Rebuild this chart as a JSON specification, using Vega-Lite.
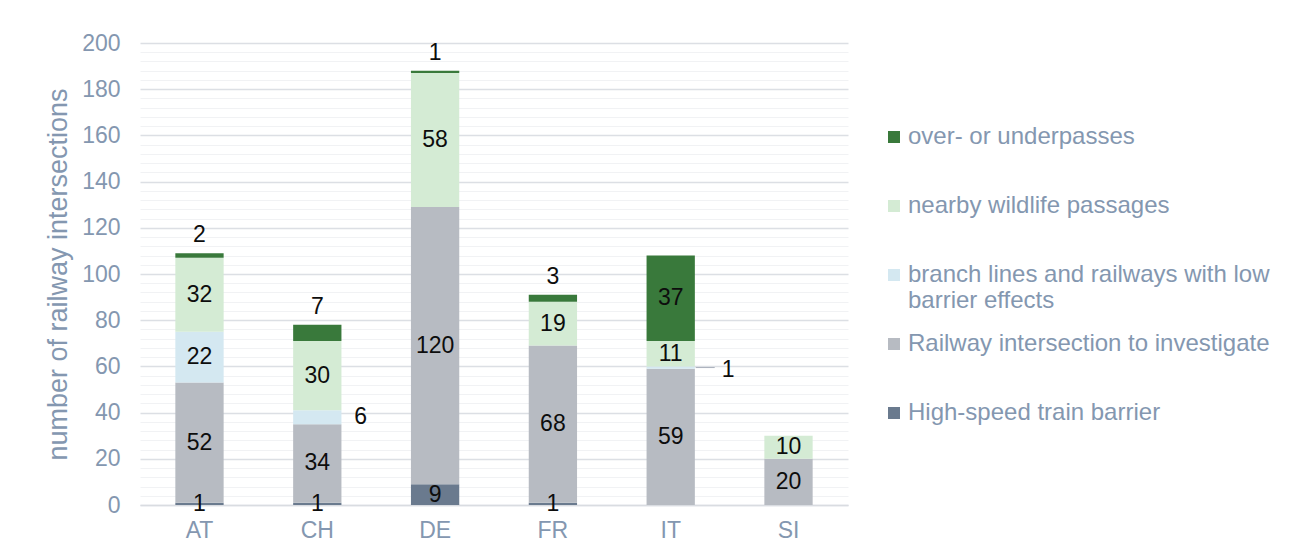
{
  "$schema": "https://vega.github.io/schema/vega-lite/v6.json",
  "width": 708,
  "height": 462,
  "autosize": {"type": "none"},
  "padding": {"left": 140, "top": 43, "right": 442, "bottom": 49},
  "background": "#ffffff",
  "config": {
    "font": "Liberation Sans",
    "view": {"stroke": null},
    "axisY": {
      "title": "number of railway intersections",
      "titleFontSize": 27,
      "titleFontWeight": "normal",
      "titleColor": "#8497b0",
      "titlePadding": 9,
      "labelFontSize": 23,
      "labelColor": "#8497b0",
      "labelPadding": 20,
      "ticks": false,
      "domain": false,
      "grid": true
    }
  },
  "data": {
    "values": [
      {"country": "AT", "type": "High-speed train barrier", "value": 1},
      {"country": "AT", "type": "Railway intersection to investigate", "value": 52},
      {"country": "AT", "type": "branch lines and railways with low barrier effects", "value": 22},
      {"country": "AT", "type": "nearby wildlife passages", "value": 32},
      {"country": "AT", "type": "over- or underpasses", "value": 2},
      {"country": "CH", "type": "High-speed train barrier", "value": 1},
      {"country": "CH", "type": "Railway intersection to investigate", "value": 34},
      {"country": "CH", "type": "branch lines and railways with low barrier effects", "value": 6},
      {"country": "CH", "type": "nearby wildlife passages", "value": 30},
      {"country": "CH", "type": "over- or underpasses", "value": 7},
      {"country": "DE", "type": "High-speed train barrier", "value": 9},
      {"country": "DE", "type": "Railway intersection to investigate", "value": 120},
      {"country": "DE", "type": "nearby wildlife passages", "value": 58},
      {"country": "DE", "type": "over- or underpasses", "value": 1},
      {"country": "FR", "type": "High-speed train barrier", "value": 1},
      {"country": "FR", "type": "Railway intersection to investigate", "value": 68},
      {"country": "FR", "type": "nearby wildlife passages", "value": 19},
      {"country": "FR", "type": "over- or underpasses", "value": 3},
      {"country": "IT", "type": "Railway intersection to investigate", "value": 59},
      {"country": "IT", "type": "branch lines and railways with low barrier effects", "value": 1},
      {"country": "IT", "type": "nearby wildlife passages", "value": 11},
      {"country": "IT", "type": "over- or underpasses", "value": 37},
      {"country": "SI", "type": "Railway intersection to investigate", "value": 20},
      {"country": "SI", "type": "nearby wildlife passages", "value": 10}
    ]
  },
  "transform": [
    {"calculate": "indexof(['High-speed train barrier','Railway intersection to investigate','branch lines and railways with low barrier effects','nearby wildlife passages','over- or underpasses'], datum.type)", "as": "ord"},
    {"stack": "value", "groupby": ["country"], "sort": [{"field": "ord", "order": "ascending"}], "as": ["y0", "y1"]},
    {"calculate": "(datum.y0 + datum.y1) / 2", "as": "ymid"}
  ],
  "encoding": {
    "x": {
      "field": "country",
      "type": "nominal",
      "scale": {"paddingInner": 0.59, "paddingOuter": 0.3},
      "axis": {
        "title": null,
        "labelAngle": 0,
        "labelFontSize": 23,
        "labelColor": "#8497b0",
        "labelPadding": 14,
        "ticks": false,
        "domainColor": "#d9dce1",
        "domainWidth": 1.5
      }
    }
  },
  "layer": [
    {
      "mark": {"type": "bar"},
      "encoding": {
        "y": {
          "field": "y0",
          "type": "quantitative",
          "scale": {"domain": [0, 200], "nice": false},
          "axis": {
            "title": "number of railway intersections",
            "values": [0,4,8,12,16,20,24,28,32,36,40,44,48,52,56,60,64,68,72,76,80,84,88,92,96,100,104,108,112,116,120,124,128,132,136,140,144,148,152,156,160,164,168,172,176,180,184,188,192,196,200],
            "labelExpr": "datum.value % 20 === 0 ? datum.label : ''",
            "labelOverlap": false,
            "gridColor": {"condition": {"test": "datum.value % 20 === 0", "value": "#dcdfe4"}, "value": "#f1f2f4"},
            "gridWidth": {"condition": {"test": "datum.value % 20 === 0", "value": 1.5}, "value": 1}
          }
        },
        "y2": {"field": "y1"},
        "color": {
          "field": "type",
          "type": "nominal",
          "scale": {
            "domain": ["over- or underpasses", "nearby wildlife passages", "branch lines and railways with low barrier effects", "Railway intersection to investigate", "High-speed train barrier"],
            "range": ["#39793b", "#d4ebd4", "#d4e8f1", "#b7bbc2", "#6a7a8e"]
          },
          "legend": {
            "title": null,
            "orient": "none",
            "legendX": 742,
            "legendY": 82,
            "symbolType": "square",
            "symbolSize": 144,
            "symbolStrokeWidth": 0,
            "labelFontSize": 24,
            "labelColor": "#8497b0",
            "labelOffset": 2,
            "labelLimit": 500,
            "gridAlign": "all",
            "rowPadding": 19,
            "labelExpr": "datum.label == 'branch lines and railways with low barrier effects' ? ['branch lines and railways with low', 'barrier effects'] : datum.label"
          }
        }
      }
    },
    {
      "transform": [{"filter": "!(datum.type == 'over- or underpasses' && datum.value < 10) && !(datum.type == 'branch lines and railways with low barrier effects' && datum.value < 10)"}],
      "mark": {"type": "text", "fontSize": 23, "color": "#0d0d0d", "baseline": "middle"},
      "encoding": {
        "y": {"field": "ymid", "type": "quantitative", "scale": {"domain": [0, 200], "nice": false},
          "axis": {
            "title": "number of railway intersections",
            "values": [0,4,8,12,16,20,24,28,32,36,40,44,48,52,56,60,64,68,72,76,80,84,88,92,96,100,104,108,112,116,120,124,128,132,136,140,144,148,152,156,160,164,168,172,176,180,184,188,192,196,200],
            "labelExpr": "datum.value % 20 === 0 ? datum.label : ''",
            "labelOverlap": false,
            "gridColor": {"condition": {"test": "datum.value % 20 === 0", "value": "#dcdfe4"}, "value": "#f1f2f4"},
            "gridWidth": {"condition": {"test": "datum.value % 20 === 0", "value": 1.5}, "value": 1}
          }},
        "text": {"field": "value", "type": "quantitative"}
      }
    },
    {
      "transform": [{"filter": "datum.type == 'over- or underpasses' && datum.value < 10"}],
      "mark": {"type": "text", "fontSize": 23, "color": "#0d0d0d", "baseline": "bottom", "dy": -6},
      "encoding": {
        "y": {"field": "y1", "type": "quantitative", "scale": {"domain": [0, 200], "nice": false},
          "axis": {
            "title": "number of railway intersections",
            "values": [0,4,8,12,16,20,24,28,32,36,40,44,48,52,56,60,64,68,72,76,80,84,88,92,96,100,104,108,112,116,120,124,128,132,136,140,144,148,152,156,160,164,168,172,176,180,184,188,192,196,200],
            "labelExpr": "datum.value % 20 === 0 ? datum.label : ''",
            "labelOverlap": false,
            "gridColor": {"condition": {"test": "datum.value % 20 === 0", "value": "#dcdfe4"}, "value": "#f1f2f4"},
            "gridWidth": {"condition": {"test": "datum.value % 20 === 0", "value": 1.5}, "value": 1}
          }},
        "text": {"field": "value", "type": "quantitative"}
      }
    },
    {
      "transform": [{"filter": "datum.type == 'branch lines and railways with low barrier effects' && datum.value < 10 && datum.value >= 5"}],
      "mark": {"type": "text", "fontSize": 23, "color": "#0d0d0d", "baseline": "middle", "align": "left", "dx": 37},
      "encoding": {
        "y": {"field": "ymid", "type": "quantitative", "scale": {"domain": [0, 200], "nice": false},
          "axis": {
            "title": "number of railway intersections",
            "values": [0,4,8,12,16,20,24,28,32,36,40,44,48,52,56,60,64,68,72,76,80,84,88,92,96,100,104,108,112,116,120,124,128,132,136,140,144,148,152,156,160,164,168,172,176,180,184,188,192,196,200],
            "labelExpr": "datum.value % 20 === 0 ? datum.label : ''",
            "labelOverlap": false,
            "gridColor": {"condition": {"test": "datum.value % 20 === 0", "value": "#dcdfe4"}, "value": "#f1f2f4"},
            "gridWidth": {"condition": {"test": "datum.value % 20 === 0", "value": 1.5}, "value": 1}
          }},
        "text": {"field": "value", "type": "quantitative"}
      }
    },
    {
      "transform": [{"filter": "datum.type == 'branch lines and railways with low barrier effects' && datum.value < 5"}],
      "mark": {"type": "text", "fontSize": 23, "color": "#0d0d0d", "baseline": "middle", "align": "left", "dx": 51, "dy": 2},
      "encoding": {
        "y": {"field": "ymid", "type": "quantitative", "scale": {"domain": [0, 200], "nice": false},
          "axis": {
            "title": "number of railway intersections",
            "values": [0,4,8,12,16,20,24,28,32,36,40,44,48,52,56,60,64,68,72,76,80,84,88,92,96,100,104,108,112,116,120,124,128,132,136,140,144,148,152,156,160,164,168,172,176,180,184,188,192,196,200],
            "labelExpr": "datum.value % 20 === 0 ? datum.label : ''",
            "labelOverlap": false,
            "gridColor": {"condition": {"test": "datum.value % 20 === 0", "value": "#dcdfe4"}, "value": "#f1f2f4"},
            "gridWidth": {"condition": {"test": "datum.value % 20 === 0", "value": 1.5}, "value": 1}
          }},
        "text": {"field": "value", "type": "quantitative"}
      }
    },
    {
      "transform": [{"filter": "datum.type == 'branch lines and railways with low barrier effects' && datum.value < 5"}],
      "mark": {"type": "rule", "color": "#a9b0bb", "strokeWidth": 1, "xOffset": 25, "x2Offset": 44},
      "encoding": {
        "x2": {"field": "country"},
        "y": {"field": "ymid", "type": "quantitative", "scale": {"domain": [0, 200], "nice": false},
          "axis": {
            "title": "number of railway intersections",
            "values": [0,4,8,12,16,20,24,28,32,36,40,44,48,52,56,60,64,68,72,76,80,84,88,92,96,100,104,108,112,116,120,124,128,132,136,140,144,148,152,156,160,164,168,172,176,180,184,188,192,196,200],
            "labelExpr": "datum.value % 20 === 0 ? datum.label : ''",
            "labelOverlap": false,
            "gridColor": {"condition": {"test": "datum.value % 20 === 0", "value": "#dcdfe4"}, "value": "#f1f2f4"},
            "gridWidth": {"condition": {"test": "datum.value % 20 === 0", "value": 1.5}, "value": 1}
          }}
      }
    }
  ]
}
